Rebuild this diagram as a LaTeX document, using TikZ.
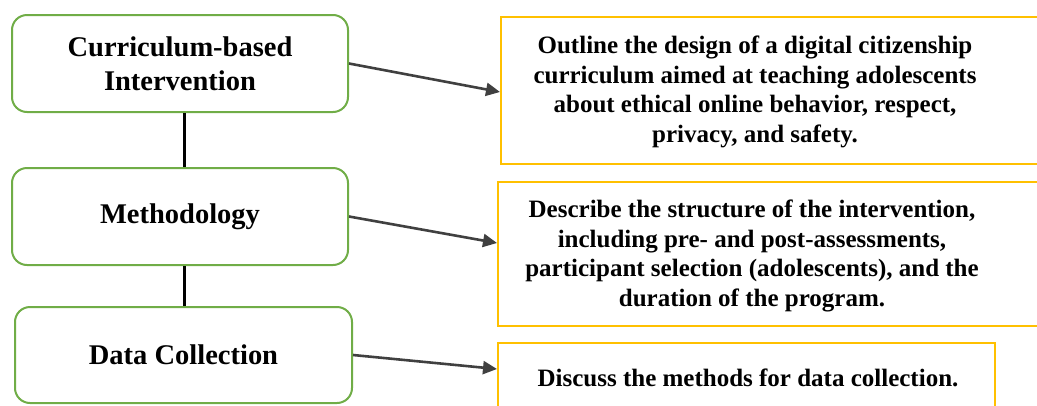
\documentclass[tikz,border=0pt]{standalone}
\usepackage{fontspec}
\setmainfont{Liberation Serif}
\usetikzlibrary{arrows.meta}
\definecolor{leafgreen}{HTML}{70AD47}
\definecolor{gold}{HTML}{FFC000}
\definecolor{arrowgray}{HTML}{404040}
\begin{document}
\begin{tikzpicture}[x=1pt,y=-1pt,
  leftbox/.style={draw=leafgreen,line width=2pt,rounded corners=15pt,fill=white,
    minimum width=336pt,inner sep=0pt,align=center,
    font=\bfseries\fontsize{28.5}{34}\selectfont},
  rightbox/.style={draw=gold,line width=2pt,fill=white,inner sep=0pt},
  desc/.style={align=center,inner sep=0pt,font=\bfseries\fontsize{25}{29.5}\selectfont},
  link/.style={line width=3pt,black},
  pointer/.style={line width=2.6pt,arrowgray,-{Triangle[length=14pt,width=13pt]}}]
\useasboundingbox (0,0) rectangle (1037,405);
\clip (0,0) rectangle (1037,405);
% left boxes
\node[leftbox,minimum height=97pt] (l1) at (180,63.5) {Curriculum-based\\Intervention};
\node[leftbox,minimum height=97pt] (l2) at (180,216.5) {Methodology};
\node[leftbox,minimum height=96pt,minimum width=337pt] (l3) at (183.5,355) {Data Collection};
% right boxes
\node[rightbox,minimum width=546pt,minimum height=147pt] (r1) at (774,90.5) {};
\node[rightbox,minimum width=552pt,minimum height=144pt] (r2) at (774,254) {};
\node[rightbox,minimum width=497pt,minimum height=80pt] (r3) at (746.5,383) {};
\node[desc] (t1) at (755,92) {Outline the design of a digital citizenship\\curriculum aimed at teaching adolescents\\about ethical online behavior, respect,\\privacy, and safety.};
\node[desc] (t2) at (752,256) {Describe the structure of the intervention,\\including pre- and post-assessments,\\participant selection (adolescents), and the\\duration of the program.};
\node[desc] (t3) at (748,378) {Discuss the methods for data collection.};
% vertical links
\draw[link] (l1.south -| 184,0) -- (l2.north -| 184,0);
\draw[link] (l2.south -| 184,0) -- (l3.north -| 184,0);
% arrows
\draw[pointer] (l1.east) -- (r1.west |- 0,92);
\draw[pointer] (l2.east) -- (r2.west |- 0,243);
\draw[pointer] (l3.east) -- (r3.west |- 0,369);
\end{tikzpicture}
\end{document}
